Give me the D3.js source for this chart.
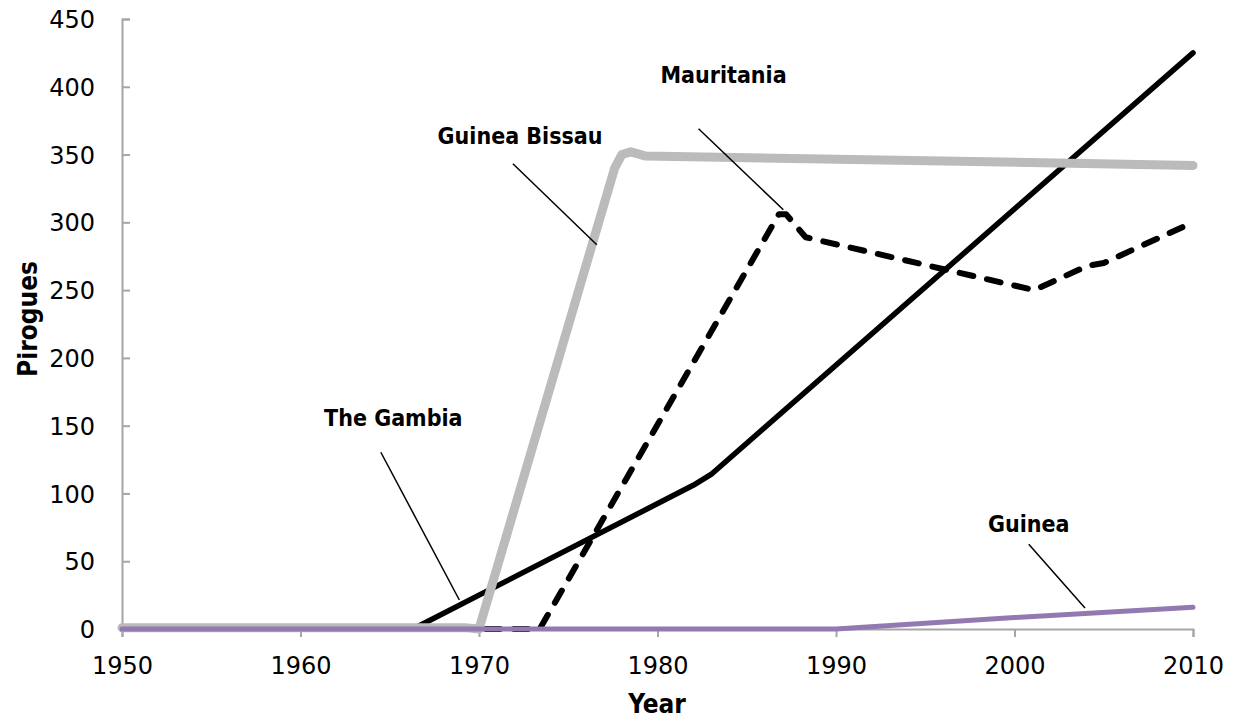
<!DOCTYPE html>
<html>
<head>
<meta charset="utf-8">
<style>
  body { margin: 0; background: #fff; }
  svg text { font-family: "DejaVu Sans Condensed", "DejaVu Sans", sans-serif; }
  .tick text { font-family: "DejaVu Sans", sans-serif; font-size: 24px; fill: #000; }
  .lab { font-size: 23px; font-weight: bold; }
  .title { font-size: 26px; font-weight: bold; }
</style>
</head>
<body>
<svg width="1237" height="721"></svg>
<script src="https://d3js.org/d3.v7.min.js"></script>
<script>
// pirogues per country
var gambiaYears   = [1950, 1966.3, 1982, 1983, 2010];
var gambiaValues  = [0, 0, 106, 114, 425];

var bissauYears   = [1950, 1969.2, 1970, 1977.6, 1978, 1978.5, 1979.3, 2010];
var bissauValues  = [1, 1, 0, 340, 350, 352, 349, 342];

var mauriYears    = [1950, 1973.4, 1986.8, 1987.2, 1988.3, 2001.1, 2004.1, 2005, 2010];
var mauriValues   = [0, 0, 306, 306, 289, 250, 268, 270, 300];

var guineaYears   = [1950, 1990, 2000, 2010];
var guineaValues  = [0, 0, 8.5, 16];

var xTicks = [1950, 1960, 1970, 1980, 1990, 2000, 2010];
var yTicks = [0, 50, 100, 150, 200, 250, 300, 350, 400, 450];

// labels and leader lines, in data units
var labelNames = ["The Gambia", "Guinea Bissau", "Mauritania", "Guinea"];
var labelYear  = [1965.2, 1972.3, 1983.7, 2000.8];
var labelValue = [150, 358, 403, 71.4];
var leaderFrom = [[1964.5, 130.4], [1971.9, 343.2], [1982.3, 369], [2000.8, 62.6]];
var leaderTo   = [[1968.9, 21.4], [1976.6, 283.5], [1987.05, 309.3], [2003.95, 15.5]];

var svg = d3.select("svg");

var x = d3.scaleLinear().domain([1950, 2010]).range([122, 1193]);
var y = d3.scaleLinear().domain([0, 450]).range([629, 19]);

var axisColor = "#a6a6a6";

// y axis, ticks pointing inside
var gy = svg.append("g").attr("transform", "translate(122,0)")
  .call(d3.axisLeft(y).tickValues(yTicks).tickSizeInner(-8).tickSizeOuter(-8).tickPadding(27));
gy.selectAll(".tick text").attr("dy", "0.36em");

// x axis, ticks pointing down
var gx = svg.append("g").attr("transform", "translate(0,629)")
  .call(d3.axisBottom(x).tickValues(xTicks).tickFormat(d3.format("d")).tickSizeInner(8).tickSizeOuter(8).tickPadding(20));

svg.selectAll(".domain, .tick line").attr("stroke", axisColor).attr("stroke-width", 2);

var line = d3.line()
  .x(function(d) { return x(d[0]); })
  .y(function(d) { return y(d[1]); });

function pairs(a, b) { return a.map(function(v, i) { return [v, b[i]]; }); }

svg.append("path").datum(pairs(gambiaYears, gambiaValues))
  .attr("d", line).attr("fill", "none").attr("stroke", "#000")
  .attr("stroke-width", 5.5).attr("stroke-linejoin", "round").attr("stroke-linecap", "round");

svg.append("path").datum(pairs(mauriYears, mauriValues))
  .attr("d", line).attr("fill", "none").attr("stroke", "#000")
  .attr("stroke-width", 6).attr("stroke-dasharray", "14,14")
  .attr("stroke-linejoin", "round").attr("stroke-linecap", "round");

svg.append("path").datum(pairs(bissauYears, bissauValues))
  .attr("d", line).attr("fill", "none").attr("stroke", "#bbbbbb")
  .attr("stroke-width", 9).attr("stroke-linejoin", "round").attr("stroke-linecap", "round");

svg.append("path").datum(pairs(guineaYears, guineaValues))
  .attr("d", line).attr("fill", "none").attr("stroke", "#9379b1")
  .attr("stroke-width", 5).attr("stroke-linejoin", "round").attr("stroke-linecap", "round");

// annotations
svg.selectAll(".leader").data(leaderFrom).enter().append("line")
  .attr("class", "leader")
  .attr("x1", function(d) { return x(d[0]); })
  .attr("y1", function(d) { return y(d[1]); })
  .attr("x2", function(d, i) { return x(leaderTo[i][0]); })
  .attr("y2", function(d, i) { return y(leaderTo[i][1]); })
  .attr("stroke", "#000").attr("stroke-width", 1.5);

svg.selectAll(".lab").data(labelNames).enter().append("text")
  .attr("class", "lab")
  .attr("x", function(d, i) { return x(labelYear[i]); })
  .attr("y", function(d, i) { return y(labelValue[i]); })
  .attr("text-anchor", "middle")
  .text(function(d) { return d; });

svg.append("text").attr("class", "title")
  .attr("x", 657).attr("y", 713).attr("text-anchor", "middle").text("Year");

svg.append("text").attr("class", "title")
  .attr("transform", "translate(37,319) rotate(-90)")
  .attr("text-anchor", "middle").text("Pirogues");
</script>
</body>
</html>
